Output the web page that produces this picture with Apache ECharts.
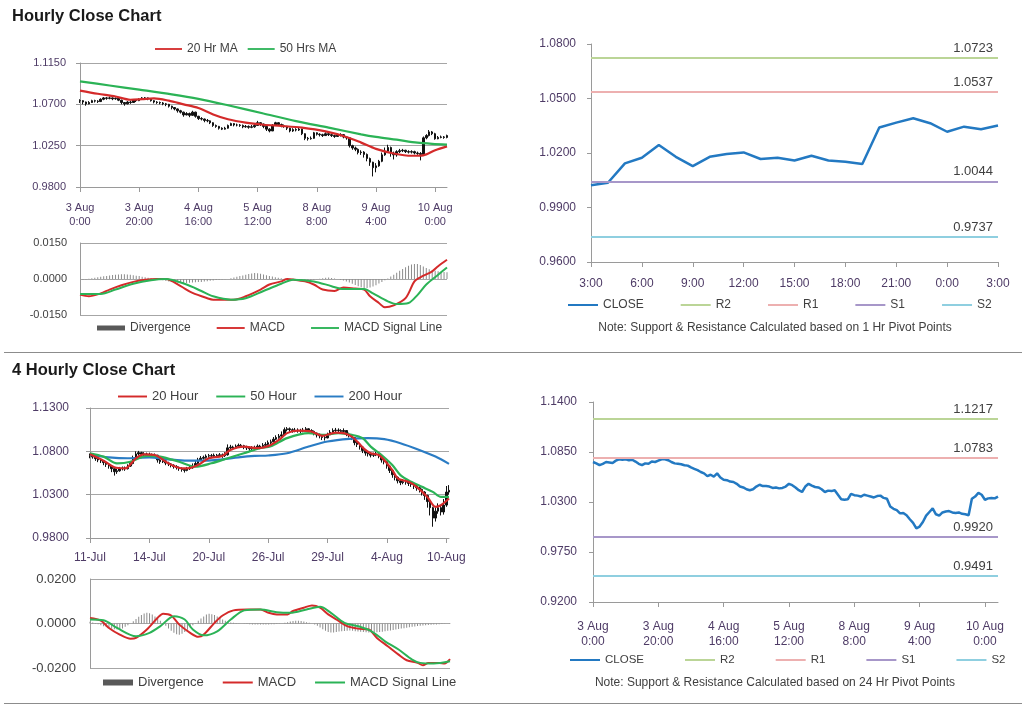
<!DOCTYPE html>
<html><head><meta charset="utf-8">
<script src="https://cdn.jsdelivr.net/npm/echarts@6/dist/echarts.min.js"></script>
<style>html,body{margin:0;padding:0;background:#fff}#c{width:1024px;height:706px}</style>
</head><body><div id="c"></div>
<script>
// ---------- DATA ----------
const hourTickLabels = ['3 Aug\n0:00','3 Aug\n20:00','4 Aug\n16:00','5 Aug\n12:00','8 Aug\n8:00','9 Aug\n4:00','10 Aug\n0:00'];
const hourClose = [
 1.0740,1.0725,1.0705,1.0720,1.0740,1.0735,1.0730,1.0755,1.0770,1.0765,
 1.0770,1.0760,1.0765,1.0745,1.0720,1.0705,1.0725,1.0720,1.0745,1.0740,
 1.0755,1.0770,1.0770,1.0760,1.0740,1.0725,1.0720,1.0715,1.0705,1.0700,
 1.0680,1.0665,1.0650,1.0630,1.0615,1.0585,1.0600,1.0580,1.0615,1.0570,
 1.0545,1.0540,1.0525,1.0520,1.0500,1.0470,1.0460,1.0440,1.0430,1.0440,
 1.0470,1.0490,1.0475,1.0475,1.0470,1.0455,1.0460,1.0450,1.0455,1.0470,
 1.0500,1.0485,1.0460,1.0430,1.0410,1.0470,1.0500,1.0480,1.0465,1.0460,
 1.0440,1.0410,1.0425,1.0420,1.0430,1.0380,1.0330,1.0325,1.0330,1.0390,
 1.0375,1.0370,1.0360,1.0380,1.0370,1.0360,1.0350,1.0365,1.0370,1.0345,
 1.0335,1.0250,1.0225,1.0210,1.0175,1.0180,1.0155,1.0110,1.0070,1.0010,
 1.0030,1.0080,1.0150,1.0190,1.0230,1.0165,1.0150,1.0185,1.0195,1.0200,
 1.0185,1.0180,1.0185,1.0170,1.0165,1.0155,1.0335,1.0360,1.0400,1.0380,
 1.0325,1.0340,1.0345,1.0340,1.0360];
const hourLow = [
 1.0715,1.0700,1.0685,1.0700,1.0715,1.0720,1.0715,1.0725,1.0745,1.0750,
 1.0755,1.0745,1.0750,1.0735,1.0700,1.0685,1.0700,1.0705,1.0715,1.0725,
 1.0735,1.0750,1.0755,1.0745,1.0730,1.0710,1.0705,1.0700,1.0690,1.0680,
 1.0665,1.0645,1.0635,1.0610,1.0600,1.0565,1.0580,1.0560,1.0575,1.0555,
 1.0530,1.0525,1.0505,1.0505,1.0485,1.0455,1.0445,1.0425,1.0420,1.0425,
 1.0435,1.0465,1.0460,1.0460,1.0455,1.0440,1.0445,1.0435,1.0440,1.0445,
 1.0465,1.0465,1.0440,1.0410,1.0395,1.0410,1.0465,1.0465,1.0450,1.0445,
 1.0420,1.0395,1.0400,1.0405,1.0410,1.0365,1.0310,1.0305,1.0315,1.0325,
 1.0360,1.0350,1.0345,1.0355,1.0355,1.0345,1.0335,1.0345,1.0350,1.0330,
 1.0315,1.0230,1.0205,1.0190,1.0155,1.0150,1.0120,1.0080,1.0030,0.9915,
 0.9960,1.0020,1.0070,1.0140,1.0170,1.0130,1.0100,1.0130,1.0170,1.0180,
 1.0170,1.0165,1.0165,1.0155,1.0150,1.0090,1.0145,1.0320,1.0350,1.0365,
 1.0315,1.0320,1.0330,1.0325,1.0330];
const hourHigh = [
 1.0755,1.0745,1.0730,1.0735,1.0750,1.0750,1.0745,1.0765,1.0780,1.0780,
 1.0785,1.0775,1.0775,1.0770,1.0750,1.0725,1.0735,1.0740,1.0755,1.0755,
 1.0765,1.0780,1.0780,1.0775,1.0765,1.0745,1.0735,1.0730,1.0725,1.0715,
 1.0705,1.0685,1.0670,1.0655,1.0640,1.0620,1.0615,1.0610,1.0630,1.0620,
 1.0575,1.0560,1.0545,1.0540,1.0525,1.0505,1.0480,1.0465,1.0450,1.0455,
 1.0480,1.0500,1.0495,1.0490,1.0485,1.0480,1.0475,1.0470,1.0475,1.0485,
 1.0520,1.0505,1.0490,1.0470,1.0440,1.0485,1.0510,1.0505,1.0490,1.0480,
 1.0465,1.0445,1.0440,1.0440,1.0445,1.0435,1.0385,1.0345,1.0350,1.0400,
 1.0395,1.0385,1.0380,1.0395,1.0390,1.0380,1.0370,1.0380,1.0385,1.0375,
 1.0350,1.0340,1.0260,1.0240,1.0220,1.0200,1.0190,1.0165,1.0120,1.0075,
 1.0060,1.0095,1.0175,1.0230,1.0260,1.0240,1.0185,1.0200,1.0215,1.0215,
 1.0205,1.0200,1.0200,1.0195,1.0185,1.0180,1.0350,1.0375,1.0420,1.0410,
 1.0390,1.0355,1.0360,1.0355,1.0370];
const ma20Hour = [[0,1.0850],[6,1.0815],[12,1.0785],[17,1.0750],[21,1.0757],[25,1.0765],[30,1.0740],[35,1.0700],[40,1.0660],[45,1.0590],[50,1.0537],[56,1.0500],[62,1.0478],[68,1.0465],[75,1.0446],[83,1.0405],[90,1.0345],[95,1.0283],[100,1.0215],[106,1.0165],[112,1.0140],[116,1.0145],[120,1.0200],[124,1.0242]];
const ma50Hour = [[0,1.0950],[10,1.0905],[20,1.0860],[31,1.0809],[40,1.0760],[50,1.0690],[62,1.0600],[73,1.0518],[84,1.0446],[95,1.0373],[100,1.0345],[107,1.0315],[114,1.0283],[119,1.0270],[124,1.0262]];
const macdHour = [[0,-0.0065],[3,-0.0072],[7,-0.0060],[10,-0.0044],[14,-0.0026],[18,-0.0012],[22,-0.0003],[26,0],[29,0],[34,-0.0030],[38,-0.0058],[43,-0.0080],[45,-0.0086],[52,-0.0086],[56,-0.0072],[61,-0.0044],[64,-0.0023],[68,-0.0010],[70,0],[72,-0.0002],[76,-0.0010],[79,-0.0023],[82,-0.0044],[86,-0.0050],[89,-0.0035],[93,-0.0040],[96,-0.0044],[98,-0.0072],[101,-0.0100],[103,-0.0118],[106,-0.0110],[110,-0.0080],[113,-0.0010],[115,0.0007],[119,0.0032],[121,0.0053],[124,0.0080]];
const signalHour = [[0,-0.0062],[7,-0.0062],[12,-0.0044],[18,-0.0020],[24,-0.0005],[29,0],[36,-0.0023],[41,-0.0050],[45,-0.0072],[51,-0.0086],[56,-0.0080],[62,-0.0050],[68,-0.0020],[72,-0.0003],[79,-0.0010],[85,-0.0030],[89,-0.0042],[96,-0.0042],[99,-0.0060],[104,-0.0093],[107,-0.0104],[111,-0.0100],[114,-0.0067],[117,-0.0023],[121,0.0018],[124,0.0048]];
const divHour = [
 0,-0.0003,-0.0002,0.0001,0.0003,0.0005,0.0007,0.0009,0.0011,
 0.0013,0.0015,0.0017,0.0018,0.0019,0.0020,0.0020,0.0019,0.0018,0.0016,0.0014,0.0012,0.0009,0.0007,0.0005,0.0003,
 0.0001,0,-0.0002,-0.0005,-0.0008,-0.0010,-0.0012,-0.0014,
 -0.0015,-0.0016,-0.0017,-0.0017,-0.0016,-0.0015,-0.0014,-0.0013,-0.0012,-0.0010,-0.0009,-0.0007,-0.0006,-0.0004,-0.0003,-0.0002,-0.0001,0,
 0.0003,0.0006,0.0009,0.0012,0.0015,0.0018,0.0021,0.0023,0.0025,0.0024,0.0022,0.0019,0.0016,0.0013,0.0010,0.0007,0.0005,0.0003,0.0001,-0.0001,
 -0.0002,-0.0004,-0.0006,-0.0007,-0.0008,-0.0008,-0.0007,-0.0005,-0.0003,-0.0001,0.0001,0.0003,0.0005,0.0006,0.0004,0.0002,
 0,-0.0003,-0.0006,-0.0010,-0.0015,-0.0020,-0.0025,-0.0030,-0.0034,-0.0037,-0.0037,-0.0035,-0.0031,-0.0026,-0.0019,-0.0012,-0.0005,0.0002,0.0010,0.0018,
 0.0026,0.0034,0.0042,0.0049,0.0055,0.0060,0.0063,0.0062,0.0058,0.0052,0.0046,0.0041,0.0037,0.0034,0.0032,0.0030,0.0029,0.0028];

const oneHrLabels = ['3:00','4:00','5:00','6:00','7:00','8:00','9:00','10:00','11:00','12:00','13:00','14:00','15:00','16:00','17:00','18:00','19:00','20:00','21:00','22:00','23:00','0:00','1:00','2:00','3:00'];
const oneHrClose = [1.0023,1.0036,1.0143,1.0174,1.0244,1.0179,1.0128,1.0179,1.0194,1.0203,1.0167,1.0174,1.0159,1.0185,1.0159,1.0152,1.0139,1.0340,1.0367,1.0391,1.0364,1.0317,1.0345,1.0331,1.0351];
const pivotNames = ['R2','R1','S1','S2'];
const pivot1h = [1.0723,1.0537,1.0044,0.9737];
const pivot24h = [1.1217,1.0783,0.9920,0.9491];

const fourHrTickLabels = ['11-Jul','14-Jul','20-Jul','26-Jul','29-Jul','4-Aug','10-Aug'];
const fourHrClose = [
 1.0750,1.0735,1.0715,1.0700,1.0690,1.0670,1.0650,1.0630,1.0600,1.0565,
 1.0575,1.0600,1.0605,1.0600,1.0630,1.0660,1.0720,1.0770,1.0785,1.0765,
 1.0770,1.0760,1.0765,1.0750,1.0755,1.0700,1.0680,1.0690,1.0665,1.0655,
 1.0640,1.0625,1.0615,1.0600,1.0590,1.0580,1.0600,1.0610,1.0625,1.0660,
 1.0700,1.0720,1.0730,1.0745,1.0750,1.0745,1.0755,1.0750,1.0760,1.0750,
 1.0760,1.0840,1.0850,1.0840,1.0860,1.0870,1.0865,1.0850,1.0840,1.0830,
 1.0835,1.0840,1.0860,1.0850,1.0870,1.0880,1.0900,1.0910,1.0940,1.0960,
 1.0975,1.0990,1.1050,1.1060,1.1050,1.1040,1.1045,1.1040,1.1035,1.1045,
 1.1060,1.1040,1.1030,1.1010,1.0990,1.0980,1.0960,1.0955,1.0990,1.1020,
 1.1040,1.1045,1.1040,1.1030,1.1040,1.1000,1.0990,1.0960,1.0900,1.0880,
 1.0850,1.0810,1.0780,1.0770,1.0755,1.0760,1.0770,1.0750,1.0700,1.0680,
 1.0630,1.0580,1.0530,1.0500,1.0460,1.0440,1.0450,1.0445,1.0430,1.0420,
 1.0400,1.0380,1.0360,1.0330,1.0290,1.0220,1.0150,1.0030,1.0110,1.0150,
 1.0100,1.0180,1.0330,1.0350];
const fourHrLow = [
 1.0720,1.0715,1.0690,1.0675,1.0665,1.0640,1.0620,1.0600,1.0560,1.0520,
 1.0540,1.0565,1.0580,1.0575,1.0590,1.0620,1.0650,1.0710,1.0750,1.0740,
 1.0740,1.0735,1.0740,1.0725,1.0730,1.0670,1.0655,1.0665,1.0640,1.0630,
 1.0615,1.0600,1.0590,1.0575,1.0565,1.0555,1.0570,1.0585,1.0600,1.0620,
 1.0655,1.0690,1.0705,1.0715,1.0725,1.0720,1.0730,1.0725,1.0735,1.0725,
 1.0735,1.0750,1.0820,1.0815,1.0830,1.0845,1.0840,1.0825,1.0815,1.0805,
 1.0810,1.0815,1.0830,1.0825,1.0840,1.0855,1.0870,1.0880,1.0905,1.0930,
 1.0945,1.0960,1.0985,1.1030,1.1025,1.1015,1.1020,1.1015,1.1010,1.1020,
 1.1035,1.1015,1.1005,1.0985,1.0960,1.0950,1.0930,1.0925,1.0950,1.0990,
 1.1010,1.1020,1.1015,1.1005,1.1010,1.0975,1.0960,1.0930,1.0870,1.0850,
 1.0820,1.0780,1.0750,1.0740,1.0730,1.0735,1.0745,1.0720,1.0670,1.0650,
 1.0600,1.0550,1.0495,1.0465,1.0430,1.0410,1.0420,1.0415,1.0400,1.0390,
 1.0365,1.0345,1.0325,1.0290,1.0240,1.0150,1.0060,0.9930,0.9990,1.0080,
 1.0060,1.0070,1.0160,1.0300];
const fourHrHigh = [
 1.0775,1.0760,1.0745,1.0725,1.0710,1.0700,1.0680,1.0660,1.0640,1.0610,
 1.0600,1.0620,1.0625,1.0625,1.0650,1.0690,1.0750,1.0800,1.0805,1.0795,
 1.0790,1.0785,1.0785,1.0775,1.0775,1.0760,1.0710,1.0710,1.0695,1.0680,
 1.0665,1.0650,1.0640,1.0625,1.0615,1.0605,1.0620,1.0635,1.0660,1.0690,
 1.0725,1.0745,1.0750,1.0765,1.0770,1.0770,1.0775,1.0770,1.0780,1.0775,
 1.0790,1.0880,1.0875,1.0865,1.0880,1.0890,1.0885,1.0875,1.0865,1.0855,
 1.0860,1.0865,1.0880,1.0875,1.0895,1.0905,1.0925,1.0935,1.0965,1.0985,
 1.1000,1.1030,1.1075,1.1080,1.1075,1.1065,1.1070,1.1065,1.1060,1.1070,
 1.1080,1.1065,1.1055,1.1040,1.1015,1.1005,1.0990,1.0980,1.1015,1.1045,
 1.1065,1.1070,1.1065,1.1055,1.1065,1.1045,1.1015,1.0995,1.0965,1.0910,
 1.0885,1.0855,1.0815,1.0795,1.0780,1.0785,1.0795,1.0780,1.0755,1.0710,
 1.0690,1.0640,1.0590,1.0540,1.0510,1.0475,1.0480,1.0475,1.0465,1.0450,
 1.0435,1.0410,1.0395,1.0370,1.0340,1.0300,1.0230,1.0160,1.0150,1.0200,
 1.0170,1.0250,1.0400,1.0410];
const ma20Four = [[0,1.0765],[5,1.0692],[9,1.0616],[13,1.0604],[17,1.0720],[20,1.0766],[24,1.0758],[29,1.0662],[34,1.0604],[36,1.0604],[40,1.0642],[44,1.0720],[49,1.0747],[52,1.0816],[57,1.0855],[62,1.0836],[66,1.0860],[70,1.0932],[73,1.1010],[77,1.1040],[82,1.1029],[86,1.0979],[91,1.1017],[94,1.1010],[97,1.0970],[99,1.0913],[102,1.0816],[104,1.0778],[107,1.0758],[109,1.0700],[112,1.0584],[114,1.0488],[118,1.0448],[121,1.0390],[125,1.0274],[128,1.0159],[130,1.0178],[133,1.0256]];
const ma50Four = [[0,1.0778],[5,1.0739],[10,1.0662],[15,1.0680],[21,1.0747],[26,1.0739],[33,1.0680],[39,1.0623],[45,1.0662],[51,1.0720],[57,1.0778],[63,1.0836],[67,1.0858],[73,1.0952],[81,1.1010],[87,1.0990],[92,1.1010],[97,1.0990],[101,1.0952],[104,1.0855],[108,1.0758],[112,1.0642],[115,1.0526],[119,1.0448],[123,1.0390],[127,1.0332],[130,1.0274],[133,1.0274]];
const ma200Four = [[0,1.0758],[7,1.0731],[14,1.0720],[22,1.0731],[29,1.0708],[36,1.0692],[43,1.0692],[49,1.0708],[55,1.0731],[61,1.0747],[66,1.0752],[73,1.0778],[81,1.0855],[88,1.0913],[96,1.0944],[103,1.0952],[109,1.0940],[115,1.0894],[122,1.0816],[128,1.0739],[133,1.0655]];
const macdFour = [[0,0.0025],[4,0.0013],[7,-0.0020],[11,-0.0050],[15,-0.0069],[17,-0.0065],[21,-0.0027],[25,0.0026],[27,0.0044],[30,0.0036],[33,-0.0005],[37,-0.0042],[40,-0.0060],[42,-0.0050],[46,0.0003],[49,0.0036],[53,0.0059],[58,0.0063],[63,0.0063],[66,0.0048],[69,0.0041],[73,0.0041],[75,0.0056],[79,0.0071],[82,0.0081],[85,0.0071],[88,0.0041],[92,0.0011],[95,-0.0012],[99,-0.0023],[103,-0.0027],[106,-0.0065],[110,-0.0102],[114,-0.0140],[117,-0.0165],[121,-0.0177],[123,-0.0188],[125,-0.0177],[129,-0.0177],[131,-0.0180],[133,-0.0160]];
const signalFour = [[0,0.0018],[5,0.0015],[10,-0.0020],[17,-0.0057],[22,-0.0042],[26,-0.0012],[31,0.0033],[35,0.0018],[38,-0.0027],[42,-0.0053],[47,-0.0035],[52,0.0018],[57,0.0059],[63,0.0063],[69,0.0051],[74,0.0048],[80,0.0063],[85,0.0075],[89,0.0048],[94,0.0003],[99,-0.0012],[104,-0.0035],[109,-0.0080],[114,-0.0117],[119,-0.0162],[122,-0.0177],[127,-0.0180],[133,-0.0170]];
const divFour = [
 0.0008,0.0005,0.0002,-0.0003,
 -0.0008,-0.0012,-0.0016,-0.0020,-0.0024,-0.0026,-0.0027,-0.0026,-0.0022,-0.0015,-0.0008,0,0.0010,
 0.0020,0.0030,0.0038,0.0045,0.0048,0.0046,0.0040,0.0032,0.0022,0.0012,0.0002,
 -0.0010,-0.0022,-0.0033,-0.0042,-0.0048,-0.0050,-0.0046,-0.0038,-0.0028,-0.0018,-0.0008,0.0002,
 0.0012,0.0022,0.0032,0.0040,0.0044,0.0042,0.0038,0.0032,0.0025,0.0018,0.0012,0.0008,0.0005,
 0.0003,0.0002,0.0001,0,-0.0001,-0.0002,-0.0003,-0.0004,-0.0004,-0.0005,-0.0005,-0.0005,-0.0004,-0.0004,-0.0003,-0.0003,-0.0002,-0.0001,0,0.0003,0.0006,0.0009,
 0.0011,0.0012,0.0012,0.0011,0.0009,0.0006,0.0003,0,-0.0004,-0.0010,
 -0.0018,-0.0026,-0.0033,-0.0038,-0.0040,-0.0040,-0.0038,-0.0036,-0.0035,-0.0034,-0.0033,-0.0032,-0.0033,-0.0035,-0.0036,-0.0037,-0.0038,-0.0039,-0.0040,-0.0040,-0.0040,-0.0039,-0.0038,-0.0037,-0.0035,-0.0033,-0.0031,-0.0029,-0.0027,-0.0025,-0.0023,-0.0021,-0.0019,-0.0017,-0.0015,-0.0013,
 -0.0011,-0.0010,-0.0009,-0.0008,-0.0007,-0.0006,-0.0005,-0.0004,-0.0003,-0.0002,-0.0001,0,0.0002];

// ---------- STYLE ----------
const FONT = "'Liberation Sans', Arial, sans-serif";
const AXC = '#4E3B66';
const TXT = '#404040';
const GRIDC = '#A6A6A6';
const AXLINE = '#9A9A9A';
const RED = '#D42A2A', GREEN = '#2BB356', BLUE = '#2A7CC4', CLOSEC = '#2379C2';
const pivotColors = ['#BBD597', '#EDB0B0', '#A797C9', '#8FCFE0'];
const LINE_ICON = 'path://M0,0H15V1H0Z';

const hourCats = hourClose.map((_, i) => String(i));
const oneHrCats = oneHrLabels.map((_, i) => String(i));
const fourCats = fourHrClose.map((_, i) => String(i));
const hourOHLC = hourClose.map((c, i) => [i ? hourClose[i - 1] : c, c, hourLow[i], hourHigh[i]]);
const fourOHLC = fourHrClose.map((c, i) => [i ? fourHrClose[i - 1] : c, c, fourHrLow[i], fourHrHigh[i]]);

function xCat(grid, cats, step, labels, fs, margin, showLabels) {
  return {
    type: 'category', gridIndex: grid, data: cats, boundaryGap: false,
    axisLine: { show: showLabels, onZero: false, lineStyle: { color: AXLINE } },
    axisTick: { show: showLabels, interval: step - 1, length: 5, lineStyle: { color: AXLINE } },
    axisLabel: {
      show: showLabels, interval: step - 1, color: AXC, fontSize: fs, fontFamily: FONT, margin: margin, lineHeight: fs + 3,
      formatter: (v, i) => (labels && i % step === 0 && labels[i / step] !== undefined) ? labels[i / step] : ''
    },
    splitLine: { show: false }
  };
}
function yVal(grid, min, max, interval, fs, margin, grid_lines, color) {
  return {
    type: 'value', gridIndex: grid, min: min, max: max, interval: interval, scale: true,
    axisLine: { show: true, lineStyle: { color: AXLINE } },
    axisTick: { show: true, length: 4, lineStyle: { color: AXLINE } },
    axisLabel: { color: color || AXC, fontSize: fs, fontFamily: FONT, margin: margin, formatter: v => v.toFixed(4) },
    splitLine: { show: grid_lines, lineStyle: { color: GRIDC, width: 1 } }
  };
}
function lineS(name, x, data, color, width, smooth) {
  return { type: 'line', name: name, xAxisIndex: x, yAxisIndex: x, data: data, color: color,
    symbol: 'none', smooth: smooth, lineStyle: { color: color, width: width }, itemStyle: { color: color }, z: 3 };
}
function candle(x, data) {
  return { type: 'candlestick', name: 'bars' + x, xAxisIndex: x, yAxisIndex: x, data: data, barWidth: 2,
    itemStyle: { color: '#111', color0: '#111', borderColor: '#111', borderColor0: '#111', borderWidth: 1 }, z: 2 };
}
function pivotS(x, i, vals) {
  const txt = vals[i].toFixed(4);
  return { type: 'line', name: pivotNames[i], xAxisIndex: x, yAxisIndex: x, data: [], color: pivotColors[i],
    symbol: 'none', lineStyle: { color: pivotColors[i], width: 2 }, itemStyle: { color: pivotColors[i] },
    markLine: { silent: true, symbol: ['none', 'none'], animation: false, precision: 4,
      lineStyle: { color: pivotColors[i], width: 2, type: 'solid' },
      label: { show: true, position: 'insideEndTop', distance: [5, 3], color: TXT, fontSize: 13, fontFamily: FONT,
        formatter: () => txt },
      data: [{ yAxis: vals[i] }] } };
}
function legend(left, top, names, fs, iw, ih, gap) {
  return { left: left, top: top, padding: 0, itemWidth: iw, itemHeight: ih, itemGap: gap, symbolKeepAspect: true,
    textStyle: { color: TXT, fontSize: fs, fontFamily: FONT },
    data: names.map(n => n === 'Divergence' ? { name: n, icon: 'rect', itemStyle: { color: '#595959' } } : { name: n, icon: LINE_ICON }) };
}

const option = {
  animation: false,
  backgroundColor: '#ffffff',
  textStyle: { fontFamily: FONT },
  grid: [
    { left: 80, top: 63, width: 367, height: 124 },
    { left: 80, top: 243, width: 367, height: 72 },
    { left: 591, top: 44, width: 407, height: 218 },
    { left: 90, top: 408, width: 359, height: 130 },
    { left: 90, top: 579, width: 360, height: 89 },
    { left: 593, top: 402, width: 405, height: 200 }
  ],
  xAxis: [
    xCat(0, hourCats, 20, hourTickLabels, 11, 14, true),
    xCat(1, hourCats, 20, null, 11, 8, false),
    xCat(2, oneHrCats, 3, oneHrLabels.filter((_, i) => i % 3 === 0), 12, 14, true),
    xCat(3, fourCats, 22, fourHrTickLabels, 12, 12, true),
    xCat(4, fourCats, 22, null, 12, 8, false),
    xCat(5, hourCats, 20, hourTickLabels, 12, 17, true)
  ],
  yAxis: [
    yVal(0, 0.98, 1.115, 0.045, 11, 14, true),
    Object.assign(yVal(1, -0.015, 0.015, 0.015, 11, 13, true, TXT), { axisTick: { show: false } }),
    yVal(2, 0.96, 1.08, 0.03, 12, 15, false),
    yVal(3, 0.98, 1.13, 0.05, 12, 21, true),
    Object.assign(yVal(4, -0.02, 0.02, 0.02, 13, 14, true, TXT), { axisTick: { show: false } }),
    yVal(5, 0.92, 1.14, 0.055, 12, 16, false)
  ],
  legend: [
    legend(155, 43, ['20 Hr MA', '50 Hrs MA'], 12, 27, 8, 10),
    legend(97, 322, ['Divergence', 'MACD', 'MACD Signal Line'], 12, 28, 5, 26),
    legend(568, 299, ['CLOSE', 'R2', 'R1', 'S1', 'S2'], 12, 30, 8, 37),
    legend(118, 390, ['20 Hour', '50 Hour', '200 Hour'], 13, 29, 8, 18),
    legend(103, 676, ['Divergence', 'MACD', 'MACD Signal Line'], 13, 30, 6, 19),
    legend(570, 654, ['CLOSE', 'R2', 'R1', 'S1', 'S2'], 11.5, 30, 8, 41)
  ],
  series: [
    candle(0, hourOHLC),
    lineS('20 Hr MA', 0, ma20Hour, RED, 2.2, 0.3),
    lineS('50 Hrs MA', 0, ma50Hour, GREEN, 2.2, 0.3),
    { type: 'bar', name: 'Divergence', xAxisIndex: 1, yAxisIndex: 1, data: divHour, barWidth: 1, color: '#8C8C8C', itemStyle: { color: '#8C8C8C' } },
    lineS('MACD', 1, macdHour, RED, 2, 0.3),
    lineS('MACD Signal Line', 1, signalHour, GREEN, 2, 0.3),
    lineS('CLOSE', 2, oneHrClose, CLOSEC, 2.5, false),
    pivotS(2, 0, pivot1h), pivotS(2, 1, pivot1h), pivotS(2, 2, pivot1h), pivotS(2, 3, pivot1h),
    candle(3, fourOHLC),
    lineS('200 Hour', 3, ma200Four, BLUE, 2.2, 0.3),
    lineS('50 Hour', 3, ma50Four, GREEN, 2.2, 0.3),
    lineS('20 Hour', 3, ma20Four, RED, 2.2, 0.3),
    { type: 'bar', name: 'Divergence', xAxisIndex: 4, yAxisIndex: 4, data: divFour, barWidth: 1, color: '#8C8C8C', itemStyle: { color: '#8C8C8C' } },
    lineS('MACD', 4, macdFour, RED, 2, 0.3),
    lineS('MACD Signal Line', 4, signalFour, GREEN, 2, 0.3),
    lineS('CLOSE', 5, hourClose, CLOSEC, 2.5, false),
    pivotS(5, 0, pivot24h), pivotS(5, 1, pivot24h), pivotS(5, 2, pivot24h), pivotS(5, 3, pivot24h)
  ],
  graphic: [
    { type: 'text', x: 12, y: 16, style: { text: 'Hourly Close Chart', fill: '#1a1a1a', font: "bold 16.5px 'Liberation Sans', Arial, sans-serif", verticalAlign: 'middle', textVerticalAlign: 'middle' } },
    { type: 'text', x: 12, y: 370, style: { text: '4 Hourly Close Chart', fill: '#1a1a1a', font: "bold 16.5px 'Liberation Sans', Arial, sans-serif", verticalAlign: 'middle', textVerticalAlign: 'middle' } },
    { type: 'text', x: 775, y: 328, style: { text: 'Note: Support & Resistance Calculated based on 1 Hr Pivot Points', fill: TXT, font: "12px 'Liberation Sans', Arial, sans-serif", align: 'center', textAlign: 'center', verticalAlign: 'middle', textVerticalAlign: 'middle' } },
    { type: 'text', x: 775, y: 683, style: { text: 'Note: Support & Resistance Calculated based on 24 Hr Pivot Points', fill: TXT, font: "12px 'Liberation Sans', Arial, sans-serif", align: 'center', textAlign: 'center', verticalAlign: 'middle', textVerticalAlign: 'middle' } },
    { type: 'line', shape: { x1: 4, y1: 352.5, x2: 1022, y2: 352.5 }, style: { stroke: '#8C8C8C', lineWidth: 1 } },
    { type: 'line', shape: { x1: 4, y1: 703.5, x2: 1022, y2: 703.5 }, style: { stroke: '#8C8C8C', lineWidth: 1 } }
  ]
};
const chart = echarts.init(document.getElementById('c'), null, { renderer: 'canvas' });
chart.setOption(option);
</script>
</body></html>
